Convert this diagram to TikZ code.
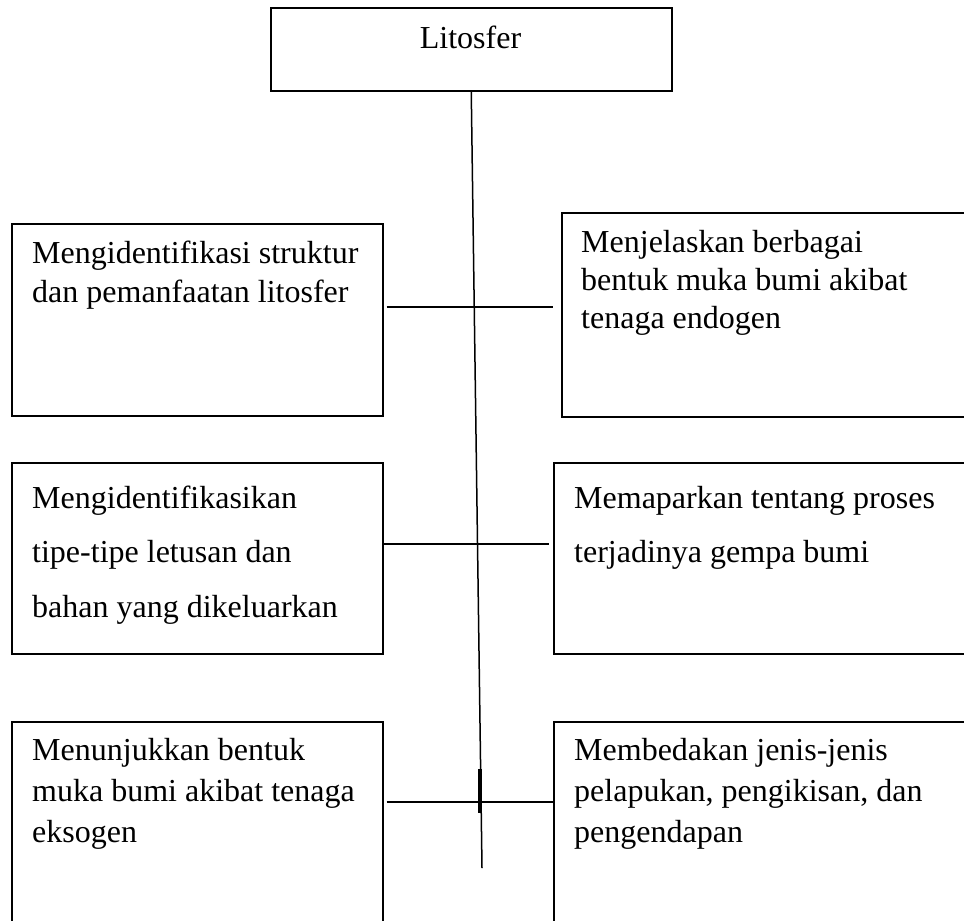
\documentclass[tikz,border=0pt]{standalone}
\usepackage{fontspec}
\setmainfont{Liberation Serif}
% multi-line text whose reference point is the baseline of its first line
\newcommand{\boxtext}[2]{{\fontsize{32}{#1}\selectfont\begin{tabular}[t]{@{}l@{}}#2\end{tabular}}}
\begin{document}
\begin{tikzpicture}[x=1pt,y=-1pt,
  frame/.style={draw, line width=1.5pt, inner sep=0pt, anchor=north west},
  caption/.style={anchor=base west, inner sep=0pt},
  link/.style={line width=1.5pt}]
\useasboundingbox (0,0) rectangle (964,921);
\clip (0,0) rectangle (964,921);

% title box
\node[frame, minimum width=401pt, minimum height=83pt] (lit) at (270,7) {};
\node[anchor=base, inner sep=0pt] (littext) at (470.5,48) {\boxtext{38}{Litosfer}};

% left column
\node[frame, minimum width=371pt, minimum height=192pt] (b1) at (11,223) {};
\node[frame, minimum width=371pt, minimum height=191pt] (b3) at (11,462) {};
\node[frame, minimum width=371pt, minimum height=219pt] (b5) at (11,721) {};

% right column
\node[frame, minimum width=414pt, minimum height=204pt] (b2) at (561,212) {};
\node[frame, minimum width=422pt, minimum height=191pt] (b4) at (553,462) {};
\node[frame, minimum width=422pt, minimum height=219pt] (b6) at (553,721) {};

% box texts
\node[caption] (t1) at (32,263) {\boxtext{39}{Mengidentifikasi struktur\\dan pemanfaatan litosfer}};
\node[caption] (t2) at (581,252) {\boxtext{38}{Menjelaskan berbagai\\bentuk muka bumi akibat\\tenaga endogen}};
\node[caption] (t3) at (32,508) {\boxtext{54.5}{Mengidentifikasikan\\tipe-tipe letusan dan\\bahan yang dikeluarkan}};
\node[caption] (t4) at (574,508) {\boxtext{54.5}{Memaparkan tentang proses\\terjadinya gempa bumi}};
\node[caption] (t5) at (32,760) {\boxtext{41}{Menunjukkan bentuk\\muka bumi akibat tenaga\\eksogen}};
\node[caption] (t6) at (574,760) {\boxtext{41}{Membedakan jenis-jenis\\pelapukan, pengikisan, dan\\pengendapan}};

% central spine
\coordinate (spineend) at (482,868);
\draw[link] (lit.south) -- (spineend);

% horizontal links between the paired boxes
\draw[link, shorten <=3pt, shorten >=8pt] (b1.east |- 0,307) -- (b2.west |- 0,307);
\draw[link, shorten >=4pt] (b3.east |- 0,544) -- (b4.west |- 0,544);
\draw[link, shorten <=3pt] (b5.east |- 0,802) -- (b6.west |- 0,802);

% short heavy mark on the spine
\coordinate (ticktop) at (480,769);
\coordinate (tickbot) at (480,813);
\draw[line width=3.5pt] (ticktop) -- (tickbot);
\end{tikzpicture}
\end{document}
